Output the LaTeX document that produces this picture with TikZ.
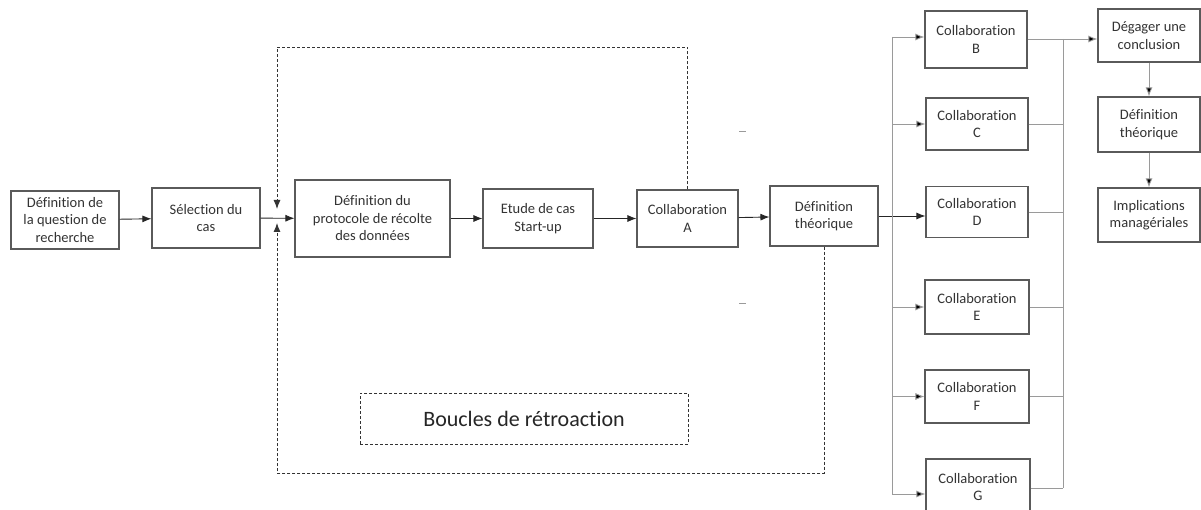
\documentclass[tikz,border=0pt]{standalone}
\usepackage{fontspec}
\setmainfont{Carlito}[RawFeature={-liga}]
\usetikzlibrary{arrows.meta}
\definecolor{boxline}{HTML}{5A5A5A}
\definecolor{txt}{HTML}{333333}
\definecolor{conn}{HTML}{9A9A9A}
\tikzset{
  box/.style={draw=boxline, line width=1.1pt, fill=white, inner sep=0pt, align=center,
    text=txt, font=\fontsize{14.5}{17.5}\selectfont},
  arr/.style={line width=0.9pt, draw=black!85, -{Latex[length=9pt,width=7pt]}},
  carr/.style={line width=0.9pt, draw=conn, -{Latex[length=9pt,width=7pt,fill=black]}},
  cline/.style={line width=0.9pt, draw=conn},
  fb/.style={line width=0.9pt, draw=black!80, dash pattern=on 3pt off 2pt},
  fbarr/.style={fb, -{Latex[length=9pt,width=7pt]}},
}
\begin{document}
\begin{tikzpicture}[x=1pt,y=-1pt]
\clip (0,0) rectangle (1201,510);
\fill[white] (0,0) rectangle (1201,510);
% main chain
\node[box, minimum width=108pt, minimum height=58pt] (Q) at (65,220) {Définition de\\la question de\\recherche};
\node[box, minimum width=108pt, minimum height=60pt] (S) at (206,218) {Sélection du\\cas};
\node[box, minimum width=155pt, minimum height=77pt] (P) at (372.5,218.5) {Définition du\\protocole de récolte\\des données};
\node[box, minimum width=110pt, minimum height=59pt] (E) at (538,218.5) {Etude de cas\\Start-up};
\node[box, minimum width=101pt, minimum height=57pt] (A) at (687.5,218.5) {Collaboration\\A};
\node[box, minimum width=108pt, minimum height=60pt] (T) at (824,216) {Définition\\théorique};
% collaborations
\node[box, minimum width=102pt, minimum height=57pt] (B) at (976,39.5) {Collaboration\\B};
\node[box, minimum width=102pt, minimum height=52pt] (C) at (977,124) {Collaboration\\C};
\node[box, minimum width=102pt, minimum height=51pt] (D) at (977,212) {Collaboration\\D};
\node[box, minimum width=104pt, minimum height=54pt] (E2) at (977,307) {Collaboration\\E};
\node[box, minimum width=104pt, minimum height=53pt] (F) at (977,396.5) {Collaboration\\F};
\node[box, minimum width=104pt, minimum height=56pt] (G) at (978,487) {Collaboration\\G};
% right column
\node[box, minimum width=102pt, minimum height=53pt] (Dg) at (1149,35.5) {Dégager une\\conclusion};
\node[box, minimum width=102pt, minimum height=55pt] (T2) at (1149,124.5) {Définition\\théorique};
\node[box, minimum width=102pt, minimum height=54pt] (I) at (1149,215) {Implications\\managériales};
% feedback label
\node[draw=black!80, line width=0.9pt, dash pattern=on 3pt off 2pt, minimum width=328pt, minimum height=51pt,
  inner sep=0pt, text=black!85, font=\fontsize{22}{26}\selectfont] (BR) at (524,418.5) {Boucles de rétroaction};
% coordinates
\coordinate (L1) at (892,37);
\coordinate (L2) at (892,494);
\coordinate (R1) at (1063,39);
\coordinate (R2) at (1063,488);
\coordinate (FTL) at (277,47);
\coordinate (FBL) at (277,473);
\coordinate (TipD) at (277,209);
\coordinate (TipU) at (277,223);
% main arrows
\draw[arr] (Q) -- (S);
\draw[arr] (S) -- (P);
\draw[arr] (P) -- (E);
\draw[arr] (E) -- (A);
\draw[arr] (A) -- (T);
\draw[arr] (T.east) -- (T.east -| D.west);
% left distribution line
\draw[cline] (L1) -- (L2);
\draw[carr] (L1) -- (L1 -| B.west);
\draw[carr] (L1 |- C.west) -- (C.west);
\draw[carr] (L1 |- E2.west) -- (E2.west);
\draw[carr] (L1 |- F.west) -- (F.west);
\draw[carr] (L2) -- (L2 -| G.west);
% right collection line
\draw[cline] (R1) -- (R2);
\draw[cline] (C.east) -- (C.east -| R1);
\draw[cline] (D.east) -- (D.east -| R1);
\draw[cline] (E2.east) -- (E2.east -| R1);
\draw[cline] (F.east) -- (F.east -| R1);
\draw[cline] (R2 -| G.east) -- (R2);
\draw[carr] (B.east |- R1) -- (R1 -| Dg.west);
\draw[carr] (Dg) -- (T2);
\draw[carr] (T2) -- (I);
% feedback loops
\draw[fbarr] (A.north) -- (A.north |- FTL) -- (FTL) -- (TipD);
\draw[fbarr] (T.south) -- (T.south |- FBL) -- (FBL) -- (TipU);
% small marks
\draw[conn, line width=0.8pt] (739,131) -- (746,131);
\draw[conn, line width=0.8pt] (739,303) -- (746,303);
\end{tikzpicture}
\end{document}
